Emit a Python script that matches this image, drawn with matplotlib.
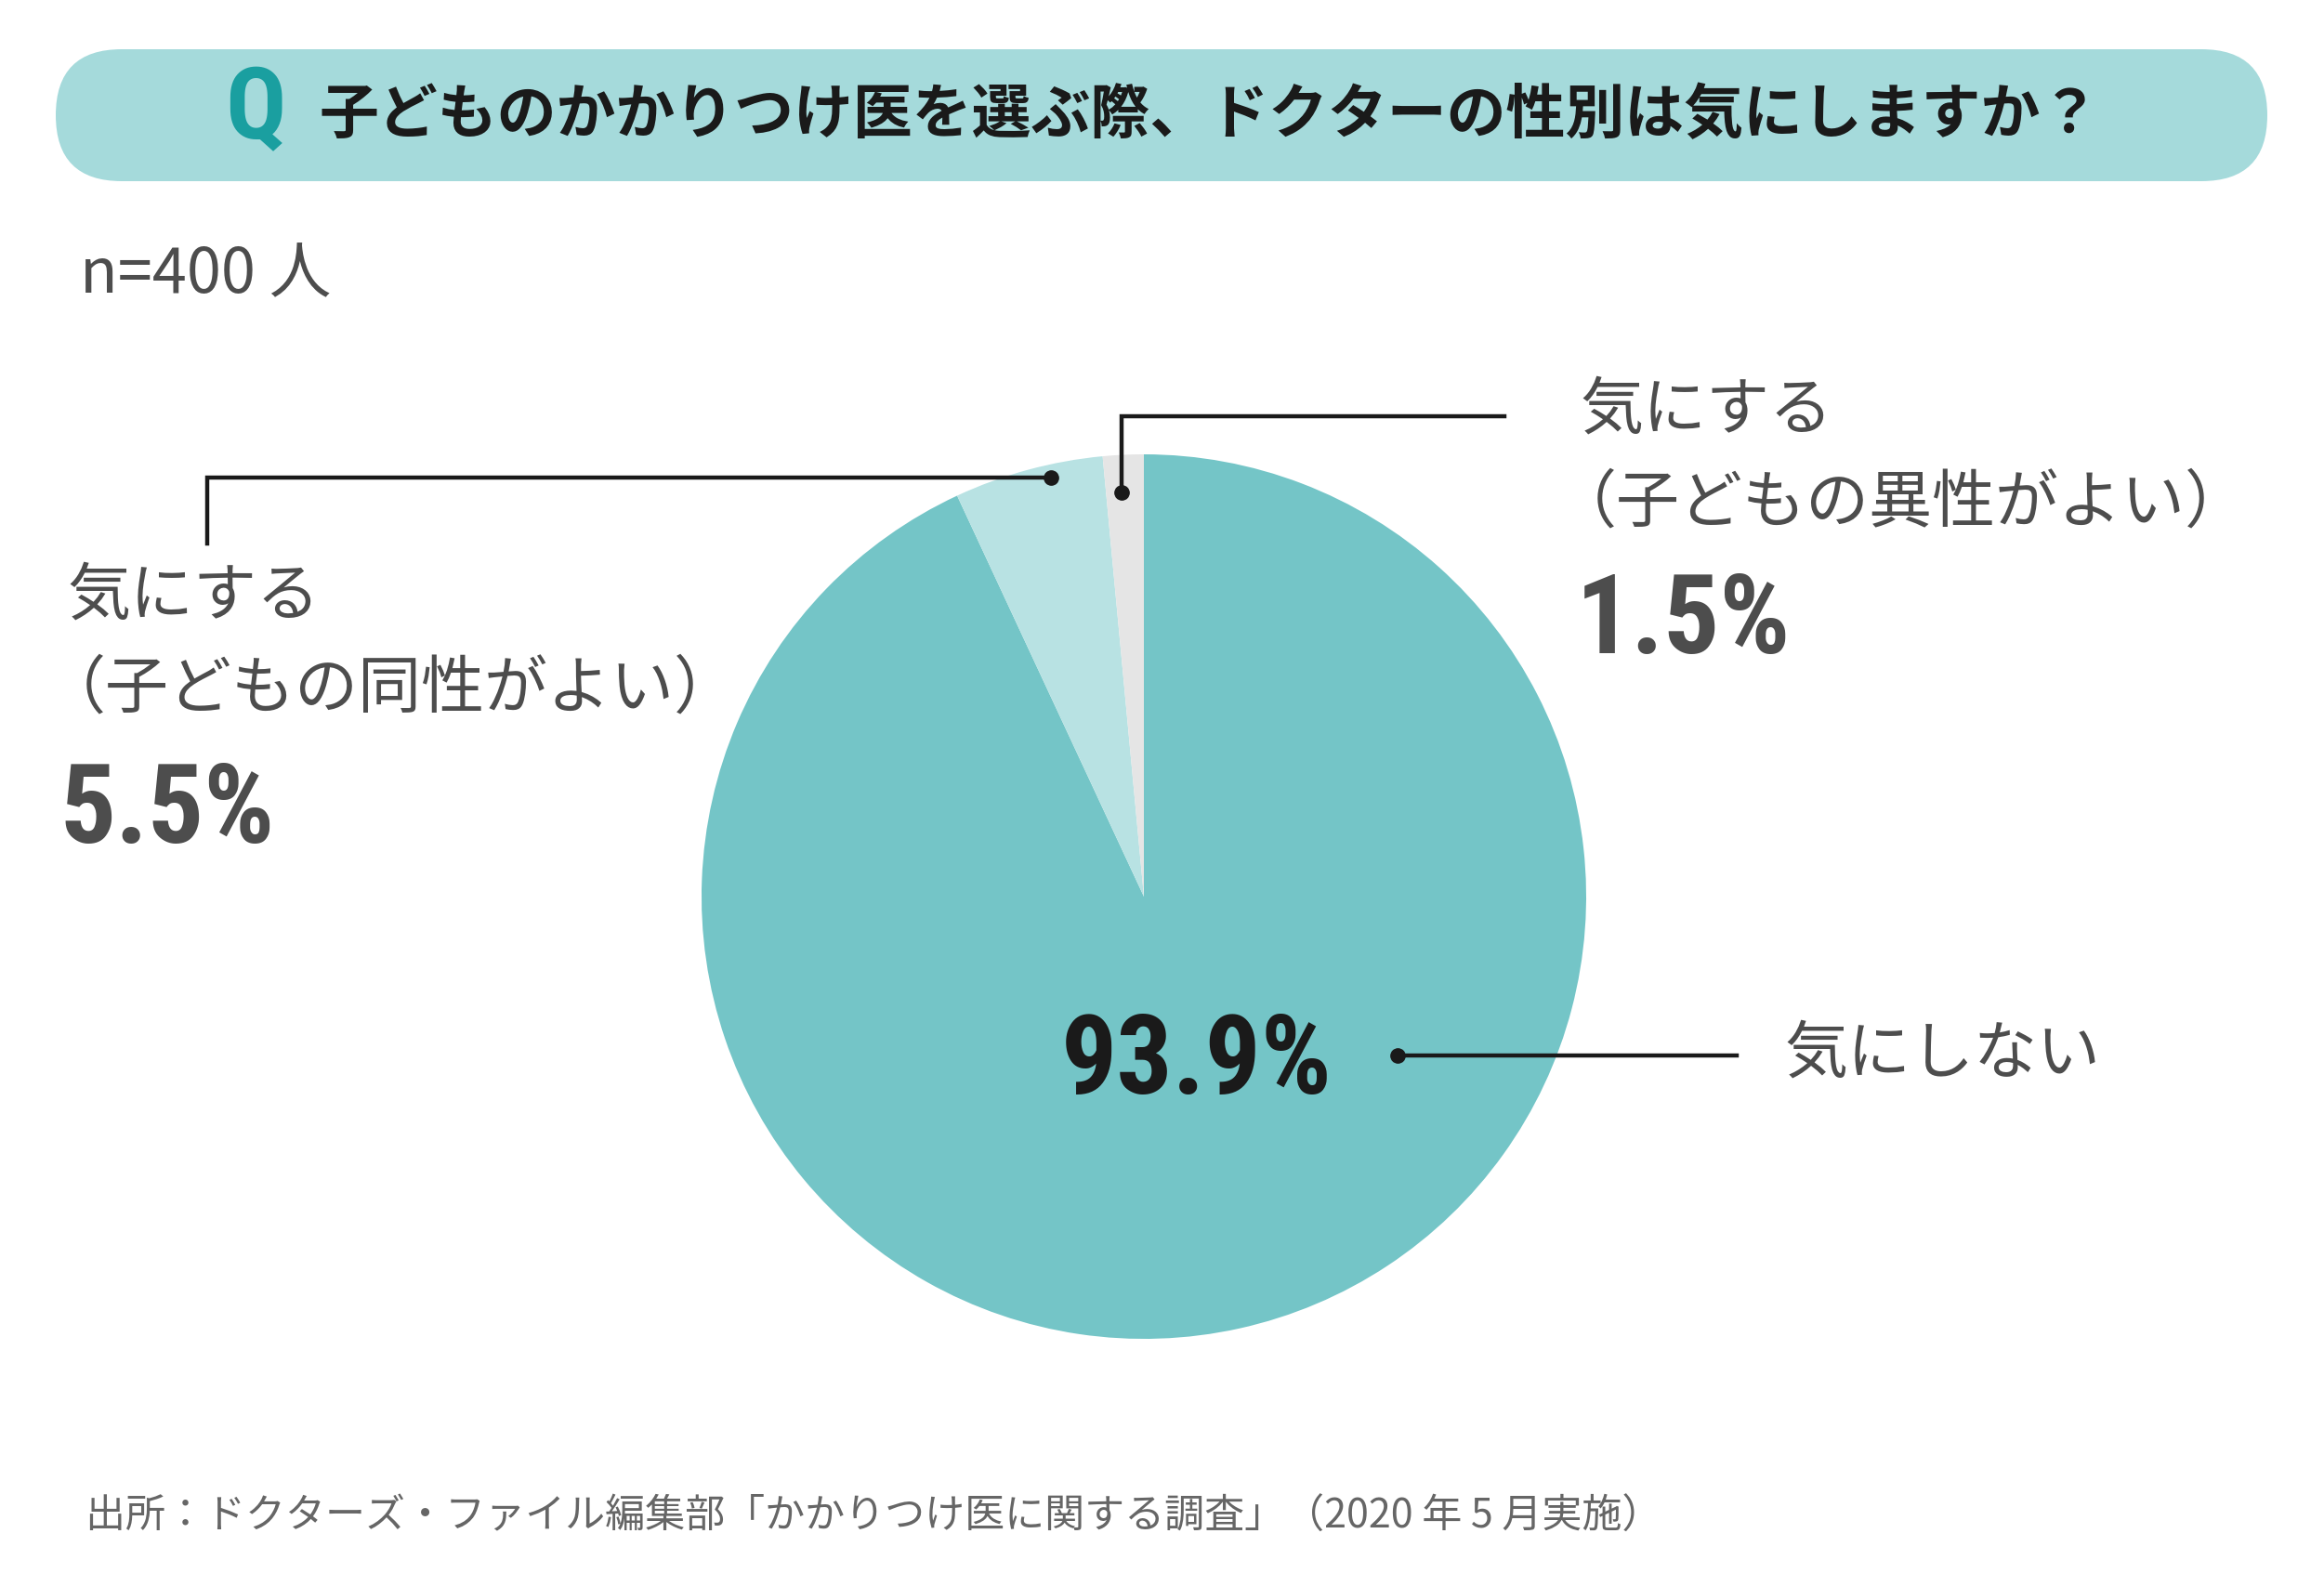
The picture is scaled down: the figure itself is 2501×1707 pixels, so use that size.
import os
import matplotlib
matplotlib.use("Agg")
import matplotlib.pyplot as plt
from matplotlib import font_manager
from matplotlib.font_manager import FontProperties
from matplotlib.patches import FancyBboxPatch

# ---- data ----
categories = ["気にしない", "気にする\n（子どもの同性がよい）", "気にする\n（子どもの異性がよい）"]
values = [93.9, 5.5, 1.5]
value_labels = ["93.9%", "5.5%", "1.5%"]
colors = ["#74c5c7", "#b8e2e3", "#e5e5e5"]

title = "子どものかかりつけ医を選ぶ際、ドクターの性別は気にしますか？"
sample = "n=400 人"
source = "出所：ドクターズ・ファイル編集部「かかりつけ医に関する調査」（2020 年 5 月実施）"

plt.rcParams['font.family'] = ['Noto Sans CJK JP', 'DejaVu Sans']


def find_condensed_bold():
    prefs = ["liberationsansnarrow-bold", "robotocondensed-bold", "opensans_condensed-bold",
             "opensanscondensed-bold", "dejavusanscondensed-bold"]
    files = [f.fname for f in font_manager.fontManager.ttflist]
    low = {os.path.basename(p).lower(): p for p in files}
    for pref in prefs:
        for base, p in low.items():
            if base.startswith(pref) and 'italic' not in base and 'oblique' not in base:
                return p
    for base, p in low.items():
        if ('condensed' in base or 'narrow' in base) and 'bold' in base \
                and 'italic' not in base and 'oblique' not in base:
            return p
    return None


cond = find_condensed_bold()


def num_props(size):
    if cond:
        return FontProperties(fname=cond, size=size)
    return FontProperties(family='Noto Sans CJK JP', weight='bold', size=size)


W, H = 2501, 1707
fig = plt.figure(figsize=(W / 100, H / 100), dpi=100)
renderer = fig.canvas.get_renderer()

ov = fig.add_axes([0, 0, 1, 1])
ov.set_xlim(0, W)
ov.set_ylim(H, 0)
ov.axis('off')

# pie axes
cx, cy, r = 1231, 965, 476
pax = fig.add_axes([(cx - r) / W, (H - cy - r) / H, 2 * r / W, 2 * r / H])
pax.pie(values, colors=colors, startangle=90, counterclock=False,
        wedgeprops=dict(linewidth=0))
pax.set_aspect('equal')
pax.set_xlim(-1, 1)
pax.set_ylim(-1, 1)
pax.axis('off')

ov.set_zorder(2)
ov.patch.set_alpha(0)

# size of big numbers: fit "93.9%" into the reference width
probe = ov.text(0, 0, value_labels[0], fontproperties=num_props(84))
wpx = probe.get_window_extent(renderer).width
probe.remove()
num_size = max(66, min(90, 84 * 292 / wpx))

# title banner
banner = FancyBboxPatch((60, 53), 2380, 142,
                        boxstyle="round,pad=0,rounding_size=71",
                        fc="#a5dadb", ec="none")
ov.add_patch(banner)
ov.text(275, 120, "Q", color="#1a9fa0", ha='center', va='center',
        fontproperties=num_props(78))
ov.text(343, 124, title, color="#1a1a1a", fontsize=46, fontweight='bold',
        ha='left', va='center')

ov.text(86, 297, sample, color="#4d4d4d", fontsize=48, ha='left', va='center')

dark = "#1a1a1a"
gray = "#4d4d4d"
lw = 3.2
lab = 49

# left leader (5.5%)
ov.plot([1131, 223, 223], [514, 514, 585], color=dark, lw=lw, solid_joinstyle='miter')
ov.plot([1131], [514], 'o', color=dark, ms=11)
l1, l2 = categories[1].split("\n")
ov.text(72, 643, l1, color=gray, fontsize=lab, ha='left', va='center')
ov.text(46, 742, l2, color=gray, fontsize=lab, ha='left', va='center')
ov.text(64, 875, value_labels[1], color=gray, ha='left', va='center',
        fontproperties=num_props(num_size))

# right leader (1.5%)
ov.plot([1207, 1207, 1619], [530, 448, 448], color=dark, lw=lw, solid_joinstyle='miter')
ov.plot([1207], [530], 'o', color=dark, ms=11)
r1, r2 = categories[2].split("\n")
ov.text(1700, 443, r1, color=gray, fontsize=lab, ha='left', va='center')
ov.text(1672, 542, r2, color=gray, fontsize=lab, ha='left', va='center')
ov.text(1696, 670, value_labels[2], color=gray, ha='left', va='center',
        fontproperties=num_props(num_size))

# main leader (93.9%)
ov.plot([1504, 1869], [1136, 1136], color=dark, lw=lw)
ov.plot([1504], [1136], 'o', color=dark, ms=11)
ov.text(1142, 1145, value_labels[0], color=dark, ha='left', va='center',
        fontproperties=num_props(num_size))
ov.text(1920, 1136, categories[0], color=gray, fontsize=lab, ha='left', va='center')

ov.text(92, 1633, source, color="#666666", fontsize=31, ha='left', va='center')

fig.savefig("out.png", dpi=100)
